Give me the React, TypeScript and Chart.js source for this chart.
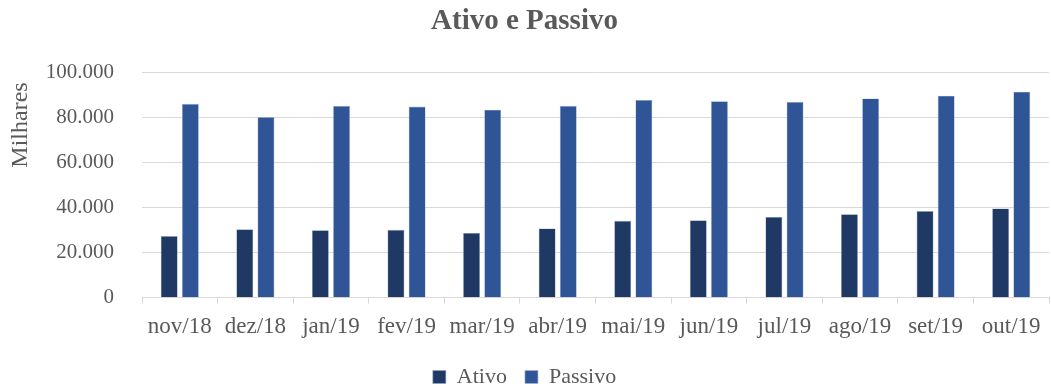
import React, { useEffect, useRef } from "react";
import { Chart, registerables } from "chart.js";

Chart.register(...registerables);

const categories = ["nov/18", "dez/18", "jan/19", "fev/19", "mar/19", "abr/19", "mai/19", "jun/19", "jul/19", "ago/19", "set/19", "out/19"];
const ativo = [27400, 30400, 30000, 30200, 28800, 30800, 34200, 34400, 35900, 37100, 38500, 39700];
const passivo = [86200, 80300, 85300, 85000, 83600, 85300, 87900, 87400, 87100, 88600, 89800, 91600];
const yTicks = [0, 20000, 40000, 60000, 80000, 100000];
const yTitle = "Milhares";

const FONT = "'Liberation Serif', 'DejaVu Serif', serif";
const GREY = "#595959";

function fmt(v: number): string {
  return v.toLocaleString("de-DE");
}

const yTitlePlugin = {
  id: "yTitlePlugin",
  afterDraw(chart: any) {
    const ctx = chart.ctx;
    ctx.save();
    ctx.translate(20.5, 125);
    ctx.rotate(-Math.PI / 2);
    ctx.font = `24px ${FONT}`;
    ctx.fillStyle = GREY;
    ctx.textAlign = "center";
    ctx.textBaseline = "middle";
    ctx.fillText(yTitle, 0, 0);
    ctx.restore();
  },
};

export default function App() {
  const ref = useRef<HTMLCanvasElement | null>(null);
  useEffect(() => {
    if (!ref.current) return;
    const chart = new Chart(ref.current, {
      type: "bar",
      data: {
        labels: categories,
        datasets: [
          { label: "Ativo", data: ativo, backgroundColor: "#203864", borderColor: "#8ea0c0", borderWidth: 0.6, categoryPercentage: 0.56, barPercentage: 0.8 },
          { label: "Passivo", data: passivo, backgroundColor: "#2F5597", borderColor: "#9fb3d6", borderWidth: 0.6, categoryPercentage: 0.56, barPercentage: 0.8 },
        ],
      },
      plugins: [yTitlePlugin],
      options: {
        animation: false,
        responsive: false,
        layout: { padding: { left: 0, right: 2, top: 0, bottom: 0 } },
        plugins: {
          title: {
            display: true,
            text: "Ativo e Passivo",
            color: GREY,
            font: { family: FONT, size: 29, weight: "bold" },
            padding: { top: 4, bottom: 34 },
          },
          legend: {
            position: "bottom",
            maxHeight: 40,
            labels: {
              color: GREY,
              font: { family: FONT, size: 22 },
              boxWidth: 13,
              boxHeight: 13,
              padding: 18,
            },
          },
          tooltip: { enabled: false },
        },
        scales: {
          x: {
            afterFit: (scale: any) => {
              scale.height = 50.3;
            },
            grid: { display: true, drawOnChartArea: false, drawTicks: true, tickLength: 6, color: "#d9d9d9", offset: true },
            border: { display: true, color: "#d9d9d9", width: 1 },
            ticks: { color: GREY, font: { family: FONT, size: 23 }, padding: 9, maxRotation: 0, autoSkip: false },
          },
          y: {
            min: 0,
            max: 100000,
            afterBuildTicks: (scale: any) => {
              scale.ticks = yTicks.map((v) => ({ value: v }));
            },
            afterFit: (scale: any) => {
              scale.width = 142;
            },
            grid: { color: "#d9d9d9", lineWidth: 1, drawTicks: false },
            border: { display: false },
            ticks: { color: GREY, font: { family: FONT, size: 21 }, padding: 28, callback: (v: any) => fmt(Number(v)) },
          },
        },
      },
    });
    return () => chart.destroy();
  }, []);
  return (
    <div style={{ position: "absolute", left: 0, top: 0, width: 1051, height: 388, background: "#fff" }}>
      <canvas ref={ref} width={1051} height={388} style={{ display: "block" }} />
    </div>
  );
}
